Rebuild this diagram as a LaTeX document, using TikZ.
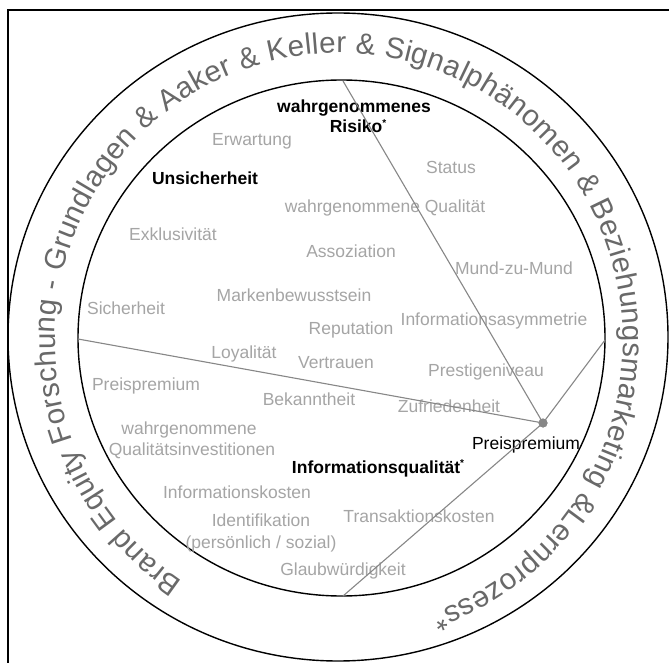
\documentclass[tikz,border=0pt]{standalone}
\usepackage{fontspec}
\setmainfont{Liberation Sans}
\newfontfamily\ringfont{Liberation Sans}
\usetikzlibrary{decorations.text}
\definecolor{softgray}{RGB}{165,165,165}
\definecolor{ringgray}{RGB}{105,105,105}
\definecolor{linegray}{RGB}{135,135,135}
\newcommand\fnstar{\raisebox{0.35em}{\fontsize{10}{10}\selectfont *}}
\begin{document}
\begin{tikzpicture}[x=1pt, y=1pt,
  term/.style={font=\fontsize{17.5}{21}\selectfont, text=softgray, inner sep=0pt, anchor=base},
  head/.style={term, text=black, font=\fontsize{17.5}{21}\selectfont\bfseries},
  hubtext/.style={term, text=black},
  link/.style={draw=linegray, line width=1.1pt},
  ring/.style={draw=black, line width=1.4pt},
  hubdot/.style={circle, fill=linegray, inner sep=0pt, minimum size=9pt}]
  \useasboundingbox (0,0) rectangle (669,662);
  \fill[white] (0,0) rectangle (669,662);
  % open frame (left and top edges)
  \draw[line width=2pt] (7.5,-5) |- (680,651.5);
  % the two rings
  \draw[ring] (338,325) ellipse [x radius=330, y radius=324];
  \draw[ring] (341.5,324) ellipse [x radius=263.5, y radius=258];
  % text running round the outer ring
  \coordinate (ringc) at (339,321);
  \path[decorate, decoration={text along path,
      text align={fit to path},
      text={|\ringfont\fontsize{29.5}{31}\selectfont\color{ringgray}|Brand Equity Forschung - Grundlagen {\&} Aaker {\&} Keller {\&} Signalphänomen {\&} Beziehungsmarketing {\&}Lernprozess*}}]
    (ringc) ++(236.5:284 and 288) arc[start angle=236.5, end angle=-71, x radius=284, y radius=288];
  % points where the dividers meet the inner ring
  \coordinate (top) at (343,581);
  \coordinate (left) at (78,323);
  \coordinate (right) at (605,322);
  \coordinate (bottom) at (343,66);
  % labels
  \node[head] (risk1) at (354,549.5) {wahrgenommenes};
  \node[head] (risk2) at (358,529) {Risiko\fnstar};
  \node[term] (erw) at (252,516) {Erwartung};
  \node[head] (unsich) at (205,477) {Unsicherheit};
  \node[term] (status) at (451,488.5) {Status};
  \node[term] (wqual) at (385,449) {wahrgenommene Qualität};
  \node[term] (exkl) at (173,421) {Exklusivität};
  \node[term] (asso) at (351,404.5) {Assoziation};
  \node[term] (mund) at (514,387) {Mund-zu-Mund};
  \node[term] (sich) at (126,347) {Sicherheit};
  \node[term] (marken) at (294,360) {Markenbewusstsein};
  \node[term] (repu) at (351,327) {Reputation};
  \node[term] (infoasym) at (494,336) {Informationsasymmetrie};
  \node[term] (loyal) at (244,303) {Loyalität};
  \node[term] (vertr) at (336,293.5) {Vertrauen};
  \node[term] (preisL) at (146,272) {Preispremium};
  \node[term] (prestige) at (486,286) {Prestigeniveau};
  \node[term] (bekannt) at (309,257) {Bekanntheit};
  \node[term] (zufried) at (449,250) {Zufriedenheit};
  \node[hubtext] (preisR) at (526,213) {Preispremium};
  \node[term] (wq1) at (189,228) {wahrgenommene};
  \node[term] (wq2) at (192,207) {Qualitätsinvestitionen};
  \node[head] (iq) at (378,189) {Informationsqualität\fnstar};
  \node[term] (ikost) at (237,164) {Informationskosten};
  \node[term] (tkost) at (419,139.5) {Transaktionskosten};
  \node[term] (ident1) at (261,136) {Identifikation};
  \node[term] (ident2) at (261,114) {(persönlich / sozial)};
  \node[term] (glaub) at (343,87) {Glaubwürdigkeit};
  % hub and dividers
  \node[hubdot] (hub) at (543,239) {};
  \draw[link] (hub.center) -- (top);
  \draw[link] (hub.center) -- (left);
  \draw[link] (hub.center) -- (right);
  \draw[link] (hub.center) -- (bottom);
  \node[hubdot] at (hub) {};
\end{tikzpicture}
\end{document}
